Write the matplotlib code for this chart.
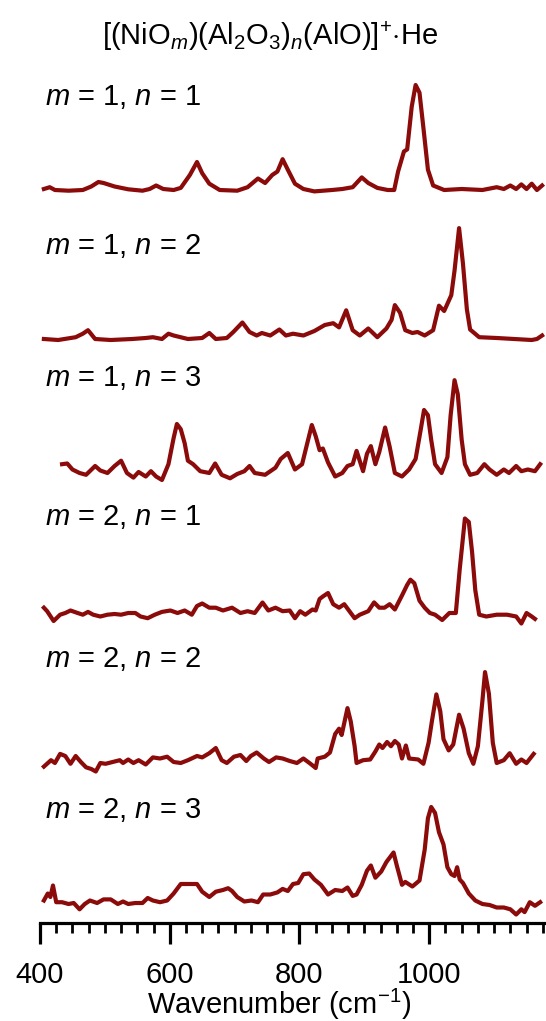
import matplotlib.pyplot as plt
from matplotlib.ticker import MultipleLocator

plt.rcParams['font.family'] = ['Liberation Sans', 'DejaVu Sans']
plt.rcParams['mathtext.fontset'] = 'custom'
plt.rcParams['mathtext.rm'] = 'Liberation Sans'
plt.rcParams['mathtext.it'] = 'Liberation Sans:italic'

# spectra (wavenumber, intensity in arb. units)
wn1 = [406, 415, 423, 444, 466, 479, 490, 498, 515, 536, 558, 569, 579, 590, 606, 617, 631, 642, 650, 661,
       677, 704, 720, 736, 747, 758, 766, 774, 782, 793, 806, 823, 850, 866, 882, 896, 906, 920, 936, 946,
       952, 961, 966, 973, 979, 985, 991, 998, 1006, 1023, 1050, 1082, 1104, 1115, 1125, 1134, 1142, 1150,
       1158, 1166, 1174]
int1 = [1.0, 2.8, 0, -0.7, 0, 3.5, 8.0, 7.0, 3.5, 0.7, -0.7, 1.0, 4.5, 1.0, 0, 2.1, 15.0, 28.0, 16.8, 6.3,
        0, -0.7, 2.8, 11.5, 7.0, 15.0, 18.5, 30.8, 20.3, 6.3, 1.0, -1.4, 0, 1.0, 2.8, 12.6, 7.0, 2.1, 0, 0,
        18.5, 38.5, 40.6, 83.3, 105, 97.3, 62.3, 20.3, 4.5, 0, 1, 0, 2.8, 1, 4.5, 1, 5.6, 1,
        6.3, 0, 4.5]

wn2 = [406, 428, 455, 466, 474, 485, 509, 542, 563, 574, 588, 598, 606, 628, 650, 661, 671, 688, 698, 712,
       723, 734, 742, 755, 769, 779, 790, 806, 823, 839, 852, 861, 872, 882, 893, 906, 920, 934, 942, 947,
       955, 963, 974, 982, 993, 1006, 1015, 1023, 1034, 1039, 1046, 1052, 1058, 1063, 1077, 1104, 1131,
       1158, 1166, 1174]
int2 = [0, -1.0, 1.8, 5.3, 8.8, 0, -1.0, 0, 1.0, 1.8, 0, 5.3, 3.5, 0, 1.0, 6.0, 0, 1.0, 7.0, 16.5,
        7.0, 3.5, 6.0, 3.5, 9.5, 3.5, 5.3, 3.5, 8.0, 14.0, 15.8, 11.6, 28.7, 8.8, 3.5, 10.5, 1.8, 10.5, 19.2, 33.9,
        26.3, 8.8, 6.0, 7.0, 3.5, 8.8, 33.3, 28.0, 43.8, 68.3, 110.9, 75.3, 29.8, 9.5, 1.8, 1.0, 0,
        -1.0, 0, 3.5]

wn3 = [434, 442, 450, 461, 471, 485, 493, 504, 515, 525, 534, 544, 552, 563, 571, 579, 588, 598, 606, 611,
       617, 623, 628, 636, 647, 661, 670, 680, 693, 704, 715, 723, 731, 747, 763, 771, 782, 793, 804, 812,
       819, 825, 831, 836, 844, 855, 866, 874, 882, 888, 898, 904, 910, 917, 923, 932, 939, 947, 958, 969,
       979, 987, 992, 998, 1003, 1009, 1019, 1028, 1033, 1039, 1044, 1050, 1055, 1063, 1074, 1085, 1093,
       1104, 1115, 1123, 1134, 1142, 1152, 1163, 1171]
int3 = [8.8, 9.5, 3.5, 0, -1.8, 7.0, 2.5, 0, 7.0, 12.3, 0, -4.6, 1.0, -3.5, 1.8, -3.5, -7.0, 8.8, 35.0, 49.0,
        43.8, 29.8, 12.3, 8.8, 1.8, 0, 9.5, -1.8, -5.3, -1.0, 1.8, 7.0, 0, -1.8, 5.3, 14.0, 20.0, 3.5, 8.8, 29.8,
        48.0, 36.8, 22.8, 24.5, 10.5, -3.5, 0, 7.0, 8.8, 22.1, 1.8, 19.2, 26.9, 8.8, 21.0, 45.5, 26.3, 0, -3.5, 3.5,
        14.0, 43.8, 63.0, 57.8, 33.3, 8.8, 0, 15.8, 57.8, 92.8, 78.8, 33.3, 8.8, -1.8, 0, 8.8, 3.5,
        -1.8, 3.5, 0, 7.0, 1.8, 3.5, 1.8, 8.8]

wn4 = [406, 411, 421, 431, 439, 447, 458, 466, 474, 482, 493, 504, 515, 525, 536, 547, 555, 566, 577, 588,
       601, 612, 623, 634, 642, 650, 661, 671, 682, 696, 709, 720, 731, 743, 752, 763, 774, 785, 793, 801,
       809, 820, 825, 831, 836, 844, 852, 861, 869, 877, 885, 893, 906, 915, 923, 931, 939, 947, 958, 966,
       971, 977, 985, 993, 1001, 1009, 1020, 1031, 1041, 1047, 1055, 1061, 1066, 1071, 1077, 1088, 1104,
       1120, 1134, 1142, 1150, 1158, 1163]
int4 = [6.3, 2.8, -7.0, -0.7, 1.0, 3.5, 1.0, -0.7, 2.1, -0.7, -2.5, -0.7, 0, -0.7, 1.0, 1.0, -2.5, -4.2, -0.7, 2.1,
        3.5, 1.0, 3.5, -0.7, 8.0, 10.5, 6.3, 6.3, 3.5, 6.3, 1.0, 2.8, 1.0, 11.5, 3.5, 6.3, 2.8, 3.5, -4.2, 2.8,
        -0.7, 4.5, 3.5, 15.0, 17.5, 21.0, 9.8, 6.3, 9.8, 2.8, -4.2, -0.7, 2.8, 11.6, 6.3, 6.3, 9.8, 4.5, 18.5, 29.1,
        34.3, 30.8, 13.3, 6.3, 1.0, -0.7, -6.0, 1.0, 1.0, 44.8, 95.5, 92.0, 62.3, 23.8, -0.7, -2.5, -0.7,
        -0.7, -2.5, -9.5, 1.0, -2.5, -4.9]

wn5 = [406, 417, 423, 431, 439, 447, 455, 463, 471, 479, 486, 493, 501, 512, 523, 528, 536, 544, 552, 563,
       574, 585, 596, 606, 617, 628, 642, 650, 661, 671, 680, 688, 699, 709, 718, 725, 734, 745, 753, 764,
       774, 785, 796, 806, 817, 825, 828, 839, 847, 855, 861, 865, 874, 879, 885, 888, 898, 909, 917, 923,
       928, 935, 941, 947, 953, 958, 964, 969, 983, 991, 999, 1004, 1011, 1017, 1022, 1030, 1037, 1046,
       1053, 1061, 1068, 1075, 1082, 1086, 1092, 1098, 1104, 1115, 1124, 1134, 1142, 1150, 1161]
int5 = [-4.6, 1.8, -1.0, 8.1, 6.0, -1.8, 6.0, 0, -5.3, -7.0, -9.5, -1.0, -1.8, 0, 1.8, -1.0, 2.5, -1.0, 1.8, -2.5,
        4.6, 3.5, 5.3, 0, -1.0, 1.8, 6.0, 4.6, 8.8, 14.0, 1.8, -1.0, 5.3, 7.0, 1.0, 6.0, 9.5, 3.5, 0, 4.6,
        3.5, 1.0, -1.0, 3.5, -1.8, -6.0, 3.5, 5.3, 9.5, 28.0, 33.3, 27.0, 53.9, 40.6, 15.8, -1.0, 1.8, 2.5, 10.5, 17.5,
        14.0, 20.0, 15.8, 21.0, 17.5, 3.5, 16.5, 3.5, 2.5, -1.8, 19.2, 40.3, 67.6, 50.8, 22.8, 11.6, 17.5, 47.3,
        33.3, 8.8, -1.8, 15.8, 61.3, 89.9, 68.3, 19.2, -1.0, 1.8, 8.8, -1.8, 2.5, -1.0, 8.1]

wn6 = [406, 412, 416, 420, 425, 434, 444, 452, 461, 469, 477, 488, 498, 509, 520, 528, 536, 547, 558, 566,
       574, 585, 596, 606, 617, 631, 642, 650, 661, 671, 682, 690, 696, 704, 715, 726, 736, 744, 755, 766,
       774, 782, 790, 798, 806, 815, 823, 833, 844, 855, 866, 874, 882, 888, 896, 904, 910, 917, 926, 934,
       945, 950, 958, 963, 974, 985, 993, 998, 1003, 1009, 1015, 1022, 1028, 1034, 1039, 1043, 1047, 1052,
       1061, 1071, 1082, 1093, 1104, 1115, 1125, 1134, 1142, 1147, 1155, 1163, 1171]
int6 = [3.5, 10.5, 7.0, 18.5, 1.8, 1.8, 0, 1.0, -5.3, 0, 3.5, 1.0, 4.6, 4.6, 0, 2.5, 0, 1.0, 1.0, 6.0,
        3.5, 1.8, 3.5, 10.5, 20.0, 20.0, 20.0, 12.3, 7.0, 12.3, 14.0, 15.8, 13.0, 7.0, 2.5, 3.5, 1.8, 9.5, 9.5, 11.6,
        15.1, 13.0, 20.0, 21.0, 29.8, 30.5, 24.5, 19.2, 9.5, 14.0, 13.0, 16.5, 8.1, 9.5, 19.2, 33.3, 38.5, 26.3, 32.5, 42.0,
        51.5, 38.5, 19.2, 22.1, 17.5, 23.5, 54.3, 85.8, 97.0, 91.0, 71.8, 59.5, 36.8, 29.8, 28.0, 36.8, 24.5, 21.0,
        10.5, 3.5, 0, -1.0, -3.5, -3.5, -5.3, -10.5, -5.3, -8.1, 1.8, -1.8, 1.8]

labels = [r'$m$ = 1, $n$ = 1', r'$m$ = 1, $n$ = 2', r'$m$ = 1, $n$ = 3',
          r'$m$ = 2, $n$ = 1', r'$m$ = 2, $n$ = 2', r'$m$ = 2, $n$ = 3']
offsets = [733, 584, 450, 309, 161, 19]
label_y = [826, 677, 545, 406, 264, 113]

spectra = [(wn1, int1), (wn2, int2), (wn3, int3), (wn4, int4), (wn5, int5), (wn6, int6)]

fig = plt.figure(figsize=(5.46, 10.21), dpi=100)
ax = fig.add_axes([40/546, 98/1021, 506/546, 923/1021])

for (wn, inten), off, lab, ly in zip(spectra, offsets, labels, label_y):
    ax.plot(wn, [v + off for v in inten], color='#8b0a0a', lw=3.0, solid_joinstyle='round')
    ax.text(408, ly, lab, fontsize=21, va='center', ha='left')

ax.set_xlim(400, 1180)
ax.set_ylim(0, 923)
for s in ['left', 'right', 'top']:
    ax.spines[s].set_visible(False)
ax.spines['bottom'].set_linewidth(2.3)
ax.set_yticks([])
ax.xaxis.set_major_locator(MultipleLocator(200))
ax.xaxis.set_minor_locator(MultipleLocator(25))
ax.tick_params(axis='x', which='major', length=15, width=2.3, labelsize=21, pad=12)
ax.tick_params(axis='x', which='minor', length=7.5, width=2)
ax.set_xlabel('Wavenumber (cm$^{-1}$)', fontsize=21, va='center')
ax.xaxis.set_label_coords(0.472, -0.0885)

fig.text(0.495, 1 - 36/1021, r'[(NiO$_{m}$)(Al$_2$O$_3$)$_{n}$(AlO)]$^{+}$$\cdot$He',
         fontsize=21, ha='center', va='center')

fig.savefig('out.png', dpi=100)
